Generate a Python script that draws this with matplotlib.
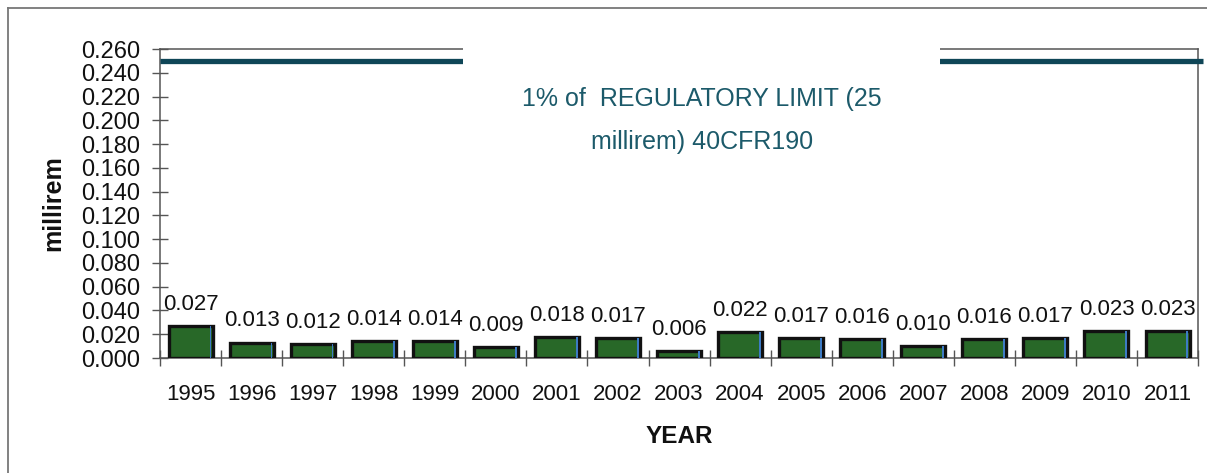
import matplotlib.pyplot as plt
from matplotlib.patches import Rectangle
from matplotlib.ticker import FixedLocator, FormatStrFormatter

# data
years = ['1995', '1996', '1997', '1998', '1999', '2000', '2001', '2002', '2003',
         '2004', '2005', '2006', '2007', '2008', '2009', '2010', '2011']
dose = [0.027, 0.013, 0.012, 0.014, 0.014, 0.009, 0.018, 0.017, 0.006,
        0.022, 0.017, 0.016, 0.010, 0.016, 0.017, 0.023, 0.023]
limit = 0.25
limit_lines = ['1% of  REGULATORY LIMIT (25', 'millirem) 40CFR190']

plt.rcParams['font.family'] = ['Liberation Sans', 'DejaVu Sans']

fig = plt.figure(figsize=(12.07, 4.73), dpi=100)
ax = fig.add_axes([0.1326, 0.2431, 0.860, 0.6533])

# outer frame (left and top edges visible)
fig.add_artist(plt.Line2D([8 / 1207, 8 / 1207], [0, 1 - 8 / 473],
                          transform=fig.transFigure, color='#777777', lw=1.3))
fig.add_artist(plt.Line2D([8 / 1207, 1], [1 - 8 / 473, 1 - 8 / 473],
                          transform=fig.transFigure, color='#777777', lw=1.3))

x = list(range(len(years)))
bw = 0.72
ax.bar(x, dose, width=bw, color='#286828', edgecolor='#111111', linewidth=2.4, zorder=3)
# thin blue shade on the right side of each bar
ax.bar([i + bw / 2 - 0.035 for i in x], dose, width=0.03, color='#3d7bc4',
       linewidth=0, zorder=4)

for i, v in zip(x, dose):
    ax.annotate('%.3f' % v, (i, v), xytext=(0, 8), textcoords='offset points',
                ha='center', va='bottom', fontsize=16, color='#111111')

# regulatory limit line
ax.plot([-0.5, 16.58], [limit, limit], color='#0f4657', lw=3.8, solid_capstyle='butt',
        clip_on=False, zorder=5)

# white text box hiding the middle of the line and top spine
ax.add_patch(Rectangle((4.46, 0.228), 12.27 - 4.46, 0.045, facecolor='white',
                       edgecolor='none', clip_on=False, zorder=6))
for line, ypos in zip(limit_lines, [0.218, 0.182]):
    ax.text(8.37, ypos, line, ha='center', va='center', fontsize=18,
            color='#1c5a6a', zorder=7)

ax.set_xlim(-0.5, 16.5)
ax.set_ylim(0, 0.26)

ax.set_yticks([i * 0.02 for i in range(14)])
ax.yaxis.set_major_formatter(FormatStrFormatter('%.3f'))
ax.tick_params(axis='y', direction='inout', length=12, width=1, color='#555555',
               labelsize=17, pad=8, labelcolor='#111111')

ax.set_xticks(x)
ax.set_xticklabels(years)
ax.xaxis.set_minor_locator(FixedLocator([i - 0.5 for i in range(len(years) + 1)]))
ax.tick_params(axis='x', which='major', length=0, labelsize=16, pad=19,
               labelcolor='#111111')
ax.tick_params(axis='x', which='minor', direction='inout', length=12, width=1,
               color='#555555')

for s in ax.spines.values():
    s.set_color('#555555')
    s.set_linewidth(1.1)

ax.set_xlabel('YEAR', fontsize=17.5, fontweight='bold', labelpad=14, color='#111111')
ax.set_ylabel('millirem', fontsize=18, fontweight='bold', labelpad=12, color='#111111')

fig.savefig('out.png', dpi=100)
